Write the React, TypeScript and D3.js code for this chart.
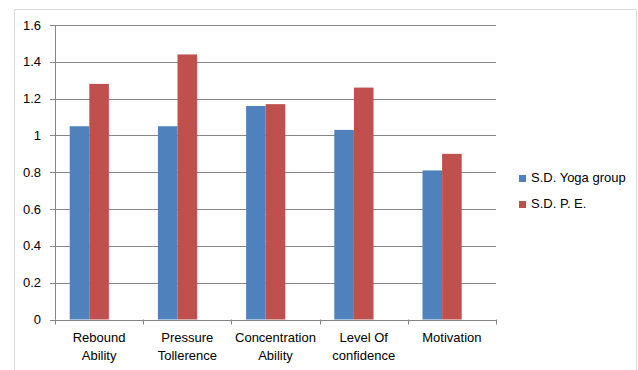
import React from "react";
import * as d3 from "d3";

const categories: string[][] = [
  ["Rebound", "Ability"],
  ["Pressure", "Tollerence"],
  ["Concentration", "Ability"],
  ["Level Of", "confidence"],
  ["Motivation"],
];
const seriesNames = ["S.D. Yoga group", "S.D. P. E."];
const yogaValues = [1.05, 1.05, 1.16, 1.03, 0.81];
const peValues = [1.28, 1.44, 1.17, 1.26, 0.9];
const yTicks = [0, 0.2, 0.4, 0.6, 0.8, 1, 1.2, 1.4, 1.6];
const yTickLabels = ["0", "0.2", "0.4", "0.6", "0.8", "1", "1.2", "1.4", "1.6"];
const colors = ["#4F81BD", "#C0504D"];

export default function App() {
  const W = 638, H = 370;
  const left = 55, right = 496, top = 25, bottom = 319.5;
  const font = "'Liberation Sans', Arial, sans-serif";
  const idx = categories.map((_, i) => String(i));
  const x0 = d3.scaleBand().domain(idx).range([left, right]).paddingInner(0).paddingOuter(0);
  // Excel-style grouping: 3 slots (third empty) with gap width 150%
  const x1 = d3.scaleBand().domain(["0", "1", "2"]).range([0, x0.bandwidth()]).paddingInner(0).paddingOuter(0.75);
  const y = d3.scaleLinear().domain([0, 1.6]).range([bottom, top]);
  const series = [yogaValues, peValues];
  const tickPos = d3.range(categories.length + 1).map((i) => left + i * x0.bandwidth());

  return (
    <svg width={W} height={H} style={{ position: "absolute", left: 0, top: 0, background: "#fff" }}>
      <rect x={14.5} y={9.5} width={622} height={380} fill="#fff" stroke="#d9d9d9" strokeWidth={1} />
      {yTicks.map((t, i) => (
        <g key={i}>
          <line x1={left - 5} x2={right} y1={Math.round(y(t)) + 0.5} y2={Math.round(y(t)) + 0.5} stroke="#868686" strokeWidth={1} />
          <text x={41} y={y(t)} dy="0.35em" textAnchor="end" fontFamily={font} fontSize={13} fill="#000">
            {yTickLabels[i]}
          </text>
        </g>
      ))}
      <line x1={left + 0.5} x2={left + 0.5} y1={top} y2={bottom} stroke="#868686" />
      {tickPos.map((p, i) => (
        <line key={i} x1={Math.round(p) + 0.5} x2={Math.round(p) + 0.5} y1={bottom} y2={bottom + 5} stroke="#868686" />
      ))}
      {categories.map((c, i) => (
        <g key={i}>
          {series.map((vals, s) => {
            const bx = (x0(String(i)) as number) + (x1(String(s)) as number);
            return (
              <rect key={s} x={bx} y={y(vals[i])} width={x1.bandwidth()} height={bottom - y(vals[i])} fill={colors[s]} />
            );
          })}
          {c.map((line, li) => (
            <text key={li} x={(x0(String(i)) as number) + x0.bandwidth() / 2} y={342 + li * 18} textAnchor="middle" fontFamily={font} fontSize={13} fill="#000">
              {line}
            </text>
          ))}
        </g>
      ))}
      {seriesNames.map((n, s) => (
        <g key={s}>
          <rect x={519} y={175 + s * 26} width={7} height={7} fill={colors[s]} />
          <text x={531} y={182 + s * 26} fontFamily={font} fontSize={13} fill="#000">{n}</text>
        </g>
      ))}
    </svg>
  );
}
